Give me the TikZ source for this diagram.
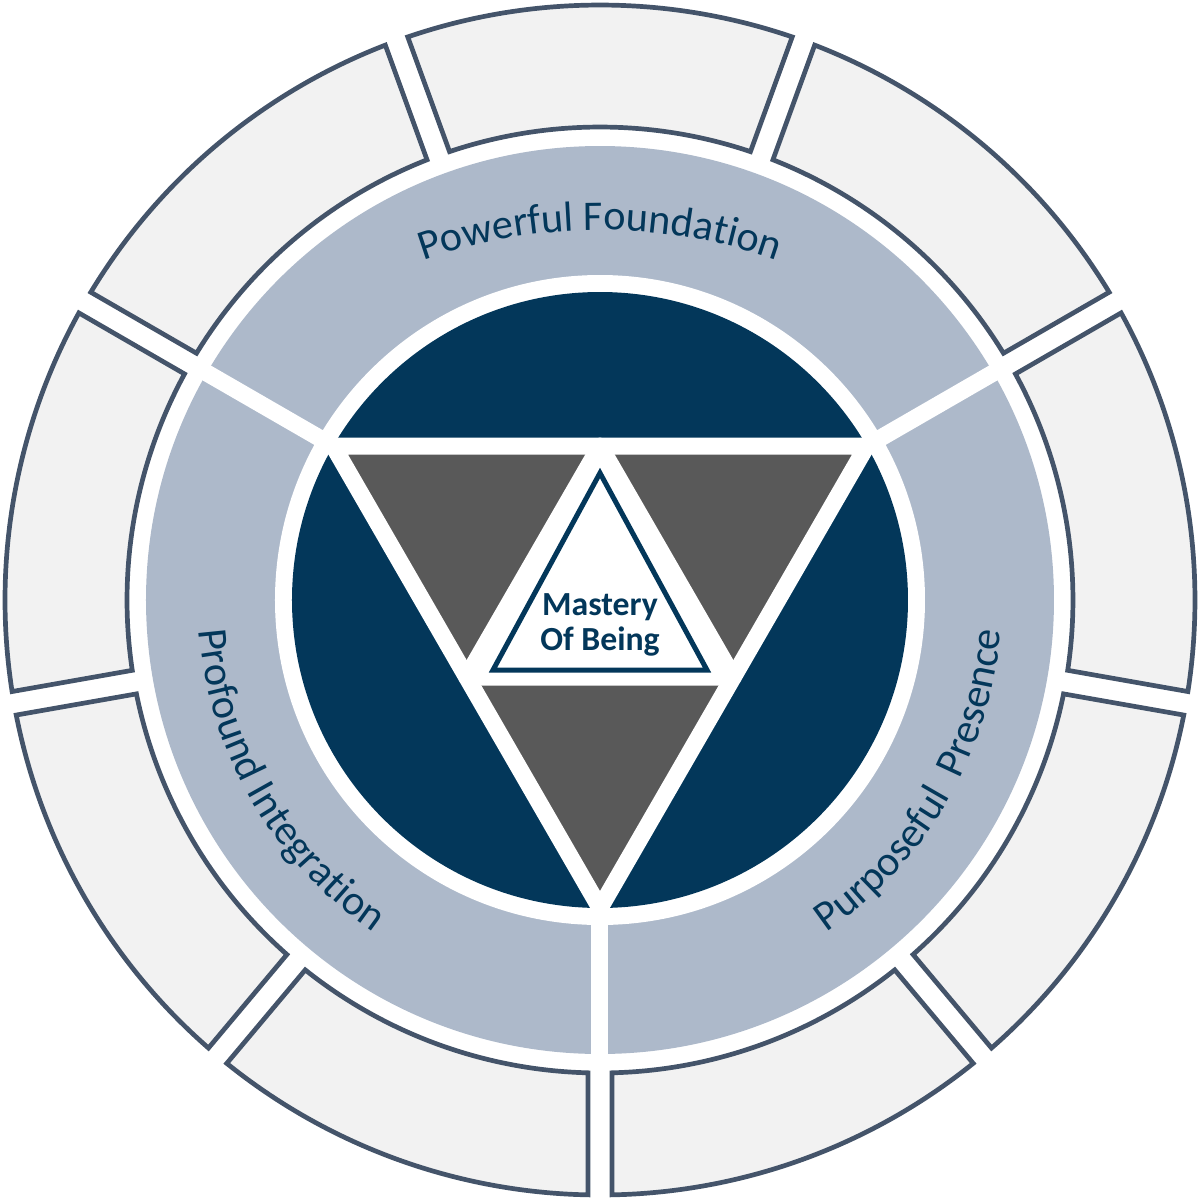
\documentclass[tikz,border=0pt]{standalone}
\usepackage{fontspec}
\setmainfont{Carlito}
\usetikzlibrary{calc,decorations.text}
\definecolor{corenavy}{HTML}{03375A}
\definecolor{ringblue}{HTML}{ADB9CA}
\definecolor{segfill}{HTML}{F2F2F2}
\definecolor{segline}{HTML}{44546A}
\definecolor{trigray}{HTML}{595959}
\newcommand{\ringlabel}{\fontsize{12}{14}\selectfont\color{corenavy}}

\begin{document}
\begin{tikzpicture}[line cap=round,line join=round,
  segment/.style={draw=segline,fill=segfill,line width=0.047cm,line join=miter},
  whiteline/.style={draw=white,line width=0.17cm},
  ringtext/.style={decorate,decoration={text along path,text align=center,text={#1}}}]
  \useasboundingbox (-6,-6) rectangle (6,6);
  \draw[segment] (108.85:5.95) arc (108.85:71.15:5.95) -- (71.45:4.73) arc (71.45:108.55:4.73) -- cycle;
  \draw[segment] (68.85:5.95) arc (68.85:31.15:5.95) -- (31.45:4.73) arc (31.45:68.55:4.73) -- cycle;
  \draw[segment] (28.85:5.95) arc (28.85:-8.85:5.95) -- (-8.55:4.73) arc (-8.55:28.55:4.73) -- cycle;
  \draw[segment] (-11.15:5.95) arc (-11.15:-48.85:5.95) -- (-48.55:4.73) arc (-48.55:-11.45:4.73) -- cycle;
  \draw[segment] (-51.15:5.95) arc (-51.15:-88.85:5.95) -- (-88.55:4.73) arc (-88.55:-51.45:4.73) -- cycle;
  \draw[segment] (-91.15:5.95) arc (-91.15:-128.85:5.95) -- (-128.55:4.73) arc (-128.55:-91.45:4.73) -- cycle;
  \draw[segment] (-131.15:5.95) arc (-131.15:-168.85:5.95) -- (-168.55:4.73) arc (-168.55:-131.45:4.73) -- cycle;
  \draw[segment] (188.85:5.95) arc (188.85:151.15:5.95) -- (151.45:4.73) arc (151.45:188.55:4.73) -- cycle;
  \draw[segment] (148.85:5.95) arc (148.85:111.15:5.95) -- (111.45:4.73) arc (111.45:148.55:4.73) -- cycle;
  \fill[ringblue] (0,0) circle (4.54);
  \fill[white] (0,0) circle (3.25);
  \fill[corenavy] (0,0) circle (3.08);
  \coordinate (v1) at (150:3.08);
  \coordinate (v2) at (30:3.08);
  \coordinate (v3) at (270:3.08);
  \coordinate (m12) at ($(v1)!0.5!(v2)$);
  \coordinate (m23) at ($(v2)!0.5!(v3)$);
  \coordinate (m13) at ($(v1)!0.5!(v3)$);
  \fill[trigray] (v1) -- (v2) -- (v3) -- cycle;
  \fill[white] (m12) -- (m23) -- (m13) -- cycle;
  \draw[whiteline] (v1) -- (v2) -- (v3) -- cycle;
  \draw[whiteline] (m12) -- (m23) -- (m13) -- cycle;
  \draw[whiteline,line cap=butt] (v2) -- (30:4.70);
  \draw[whiteline,line cap=butt] (v1) -- (150:4.70);
  \draw[whiteline,line cap=butt] (v3) -- (270:4.70);
  \draw[draw=corenavy,fill=white,line width=0.05cm,line join=miter] (0,1.27) -- (-1.07,-0.70) -- (1.07,-0.70) -- cycle;
  \node[font=\bfseries\fontsize{9.6}{10}\selectfont,text=corenavy,anchor=base] (mastery) at (0,-0.15) {Mastery};
  \node[font=\bfseries\fontsize{9.6}{10}\selectfont,text=corenavy,anchor=base] (being) at (0,-0.50) {Of Being};
  \path[ringtext={|\ringlabel|Powerful Foundation}] ($(0,-1.60)+(115:5.30)$) arc (115:65:5.30);
  \path[ringtext={|\ringlabel|Purposeful{\ }{\ }Presence}] (-70:4.02) arc (-70:10:4.02);
  \path[ringtext={|\ringlabel|Profound Integration}] (170:4.02) arc (170:250:4.02);
\end{tikzpicture}
\end{document}
